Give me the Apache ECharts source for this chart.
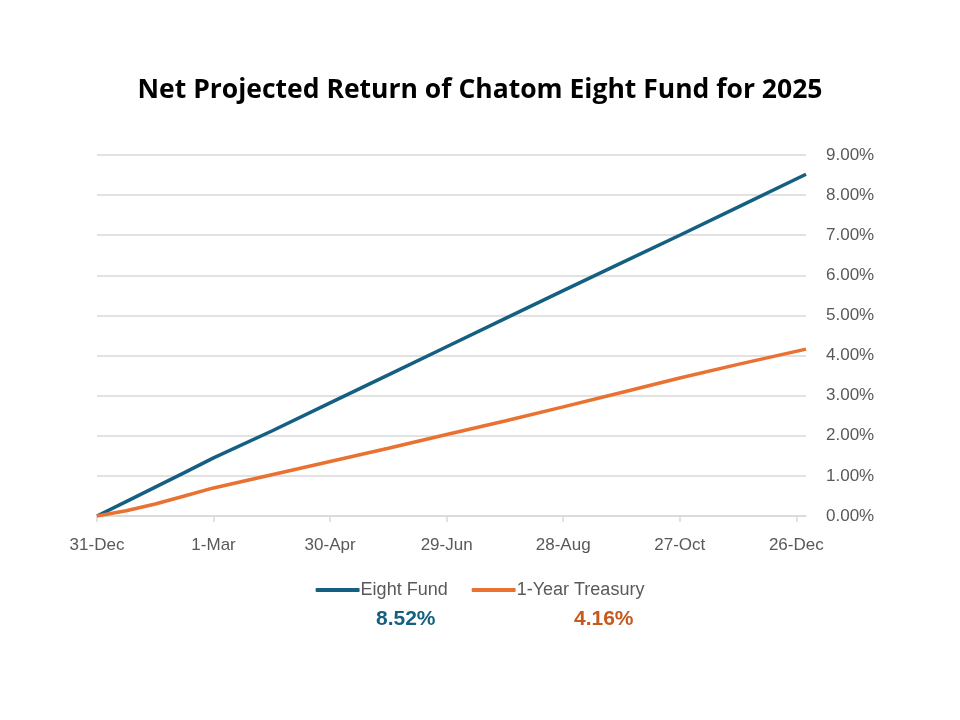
<!DOCTYPE html>
<html>
<head>
<meta charset="utf-8">
<script src="https://cdn.jsdelivr.net/npm/echarts@6/dist/echarts.min.js"></script>
<style>html,body{margin:0;padding:0;background:#fff}#c{width:960px;height:720px}</style>
</head>
<body>
<div id="c"></div>
<script>
// days since 31-Dec-2024
const fundDays = [0, 15, 30, 45, 60, 90, 120, 150, 180, 210, 240, 270, 300, 330, 365];
const fundValues = [0, 0.36, 0.72, 1.08, 1.45, 2.12, 2.82, 3.52, 4.22, 4.92, 5.62, 6.31, 7.0, 7.70, 8.52];
const treasuryDays = [0, 15, 30, 45, 60, 90, 120, 150, 180, 210, 240, 270, 300, 330, 365];
const treasuryValues = [0, 0.13, 0.3, 0.5, 0.70, 1.03, 1.36, 1.69, 2.03, 2.37, 2.72, 3.08, 3.44, 3.78, 4.16];
const xTickDays = [0, 60, 120, 180, 240, 300, 360];
const xTickLabels = ['31-Dec', '1-Mar', '30-Apr', '29-Jun', '28-Aug', '27-Oct', '26-Dec'];
const seriesNames = ['Eight Fund', '1-Year Treasury'];
const colors = ['#156082', '#E97132'];

const chart = echarts.init(document.getElementById('c'));
const fundData = fundDays.map((d, i) => [d, fundValues[i]]);
const treasData = treasuryDays.map((d, i) => [d, treasuryValues[i]]);
const fmtPct = v => v.toFixed(2) + '%';

chart.setOption({
  animation: false,
  backgroundColor: '#ffffff',
  title: {
    text: 'Net Projected Return of Chatom Eight Fund for 2025',
    left: 'center', top: 72,
    textStyle: { fontFamily: 'Open Sans', fontWeight: 'bold', fontSize: 26.5, color: '#000' }
  },
  grid: { left: 97, right: 154, top: 155, bottom: 204 },
  legend: {
    data: seriesNames,
    left: 'center', top: 576,
    itemWidth: 44, itemHeight: 4, itemGap: 24,
    icon: 'roundRect',
    textStyle: { fontFamily: 'Liberation Sans', fontSize: 18, color: '#595959', padding: [0, 0, 0, -4] }
  },
  xAxis: {
    type: 'value', min: 0, max: 365,
    axisLine: { show: true, lineStyle: { color: '#d9d9d9', width: 1.5 } },
    axisTick: { show: true, length: 6, lineStyle: { color: '#d9d9d9', width: 1.5 }, customValues: xTickDays },
    splitLine: { show: false },
    axisLabel: {
      customValues: xTickDays,
      formatter: v => xTickLabels[xTickDays.indexOf(v)] || '',
      color: '#595959', fontSize: 17, fontFamily: 'Liberation Sans', margin: 21
    }
  },
  yAxis: {
    type: 'value', position: 'right', min: 0, max: 9, interval: 1,
    axisLine: { show: false }, axisTick: { show: false },
    splitLine: { lineStyle: { color: '#d9d9d9', width: 1.5 } },
    axisLabel: { formatter: v => fmtPct(v), color: '#595959', fontSize: 17, fontFamily: 'Liberation Sans', margin: 20 }
  },
  series: [
    { name: seriesNames[0], type: 'line', data: fundData, showSymbol: false, symbol: 'none',
      lineStyle: { color: colors[0], width: 3.5 }, itemStyle: { color: colors[0] } },
    { name: seriesNames[1], type: 'line', data: treasData, showSymbol: false, symbol: 'none',
      lineStyle: { color: colors[1], width: 3.5 }, itemStyle: { color: colors[1] } }
  ],
  graphic: [
    { type: 'text', left: 376, top: 609,
      style: { text: fmtPct(fundValues[fundValues.length - 1]), fill: colors[0], font: 'bold 21px "Liberation Sans"' } },
    { type: 'text', left: 574, top: 609,
      style: { text: fmtPct(treasuryValues[treasuryValues.length - 1]), fill: '#C55A1E', font: 'bold 21px "Liberation Sans"' } }
  ]
});
</script>
</body>
</html>
